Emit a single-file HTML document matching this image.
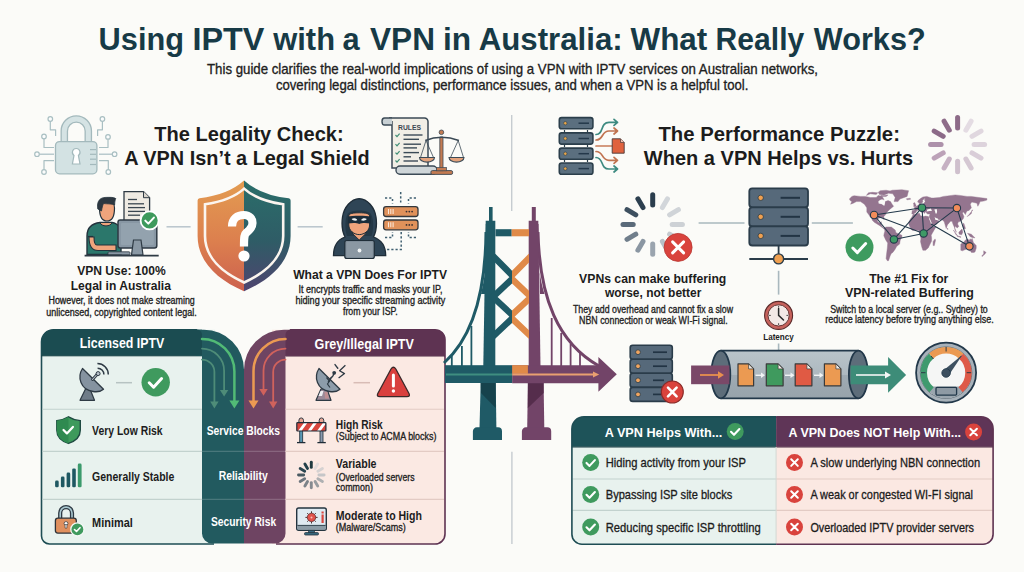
<!DOCTYPE html>
<html><head><meta charset="utf-8"><style>
html,body{margin:0;padding:0;background:#fbfbf8;}
svg{display:block;font-family:"Liberation Sans",sans-serif;}
</style></head><body>
<svg width="1024" height="572" viewBox="0 0 1024 572">
<rect width="1024" height="572" fill="#fbfbf8"/>
<!-- dividers -->
<g stroke="#c6ccd0" stroke-width="1.4">
<line x1="511.7" y1="115" x2="511.7" y2="211"/>
<line x1="511.9" y1="451.8" x2="511.9" y2="544"/>
</g>
<!-- lock icon -->
<g stroke="#a9bfc2" stroke-width="1.2" fill="none" stroke-linejoin="round">
<path d="M50.3,121.3 V129.8 H55.6 V136"/>
<path d="M44,138.8 V147.5 H54"/>
<path d="M39.3,154.2 H54"/>
<path d="M44,169.7 V160.6 H54"/>
<path d="M102.4,121.3 V129.8 H97.6 V136"/>
<path d="M108,139.2 V147.5 H99"/>
<path d="M112.3,154.2 H99"/>
<path d="M108.3,169.7 V160.6 H99"/>
<g fill="#fbfcfc"><circle cx="50.3" cy="119" r="2.3"/><circle cx="44" cy="136.5" r="2.3"/><circle cx="37" cy="154.2" r="2.3"/><circle cx="44" cy="172" r="2.3"/>
<circle cx="102.4" cy="119" r="2.3"/><circle cx="108" cy="136.9" r="2.3"/><circle cx="114.6" cy="154.2" r="2.3"/><circle cx="108.3" cy="172" r="2.3"/></g>
</g>
<path d="M64.3,143 V131 A12,12 0 0 1 88.3,131 V143" fill="none" stroke="#a3b9bc" stroke-width="7.6"/>
<path d="M64.3,143 V131 A12,12 0 0 1 88.3,131 V143" fill="none" stroke="#d5e3e4" stroke-width="5"/>
<rect x="55.5" y="141.6" width="41.4" height="32.2" rx="4" fill="#d3e2e3" stroke="#a3b9bc" stroke-width="1.3"/>
<path d="M76.2,148.5 a3.8,3.8 0 0 1 2.2,6.9 l1.6,8.6 h-7.6 l1.6,-8.6 a3.8,3.8 0 0 1 2.2,-6.9z" fill="#ffffff" stroke="#a3b9bc" stroke-width="1.2"/>
<g stroke="#a3b9bc" stroke-width="1.2"><line x1="90" y1="149.6" x2="96" y2="149.6"/><line x1="90" y1="154.3" x2="96" y2="154.3"/><line x1="90" y1="159.2" x2="96" y2="159.2"/><line x1="90" y1="164.5" x2="96" y2="164.5"/></g>

<!-- rules scroll -->
<path d="M389,118 H424.5 a3.5,3.5 0 0 1 3.5,3.5 V168 H392 V121" fill="#f1eee6" stroke="#3b4a56" stroke-width="1.5"/>
<path d="M392,125 H384.5 a2.5,3.5 0 0 1 0,-7 H392" fill="#c8d0d4" stroke="#3b4a56" stroke-width="1.4"/>
<rect x="396" y="166" width="41" height="8.3" rx="4" fill="#ced5d8" stroke="#3b4a56" stroke-width="1.4"/>
<text x="398" y="129.6" font-size="6.7" font-weight="bold" fill="#3a4550" textLength="23" lengthAdjust="spacingAndGlyphs">RULES</text>
<g stroke="#3f8c74" stroke-width="1.2" fill="none"><path d="M395.5,135 l1.5,1.6 l2.6,-3"/><path d="M395.5,144.2 l1.5,1.6 l2.6,-3"/><path d="M395.5,152.6 l1.5,1.6 l2.6,-3"/><path d="M395.5,160.5 l1.5,1.6 l2.6,-3"/></g>
<g stroke="#3b4a56" stroke-width="1.4"><line x1="403.5" y1="135" x2="422.5" y2="135"/><line x1="403.5" y1="139.3" x2="419" y2="139.3"/><line x1="403.5" y1="144.2" x2="421" y2="144.2"/><line x1="403.5" y1="147.9" x2="417" y2="147.9"/><line x1="403.5" y1="152.6" x2="419" y2="152.6"/><line x1="403.5" y1="156.8" x2="411" y2="156.8"/><line x1="403.5" y1="161" x2="418" y2="161"/></g>
<!-- scales -->
<rect x="430.9" y="170.6" width="21.7" height="3.8" rx="1.5" fill="#c47b52" stroke="#3b4a56" stroke-width="0.9"/>
<path d="M439.8,170.6 V137 H443 V170.6 Z" fill="#c47b52" stroke="#3b4a56" stroke-width="0.8"/>
<rect x="436.5" y="167.5" width="10" height="3.3" fill="#c47b52" stroke="#3b4a56" stroke-width="0.7"/>
<circle cx="441.4" cy="132.3" r="2.3" fill="#c47b52" stroke="#3b4a56" stroke-width="0.8"/>
<path d="M425.3,140.5 Q441.4,134 458.9,140.5" fill="none" stroke="#3b4a56" stroke-width="1.6"/>
<g stroke="#3b4a56" stroke-width="0.8" fill="none"><path d="M426,140.5 L420.5,157.5 M426,140.5 L433.5,157.5 M458.2,140.5 L450.5,157.5 M458.2,140.5 L463.5,157.5"/></g>
<path d="M419.5,157.5 H434.5 A7.5,4.6 0 0 1 419.5,157.5Z" fill="#e3a27c" stroke="#3b4a56" stroke-width="1.1"/>
<path d="M449,157.5 H464 A7.5,4.6 0 0 1 449,157.5Z" fill="#e3a27c" stroke="#3b4a56" stroke-width="1.1"/>

<!-- server with arrows -->
<g fill="#5b6f7f" stroke="#2b3e4b" stroke-width="1.6">
<rect x="559.3" y="117.6" width="33.6" height="11.2" rx="2.3"/>
<rect x="559.3" y="132.9" width="33.6" height="11.2" rx="2.3"/>
<rect x="559.3" y="148.1" width="33.6" height="11.2" rx="2.3"/>
<rect x="559.3" y="163" width="33.6" height="11.2" rx="2.3"/>
</g>
<g stroke="#2b3e4b" stroke-width="1.2"><line x1="564.5" y1="130" x2="564.5" y2="132"/><line x1="587.5" y1="130" x2="587.5" y2="132"/><line x1="564.5" y1="145" x2="564.5" y2="147"/><line x1="587.5" y1="145" x2="587.5" y2="147"/><line x1="564.5" y1="160" x2="564.5" y2="162"/><line x1="587.5" y1="160" x2="587.5" y2="162"/></g>
<g fill="#e8a64a" stroke="#2b3e4b" stroke-width="0.6"><circle cx="565.3" cy="123.2" r="1.7"/><circle cx="565.3" cy="138.5" r="1.7"/><circle cx="565.3" cy="153.7" r="1.7"/><circle cx="565.3" cy="168.6" r="1.7"/></g>
<g stroke="#24384a" stroke-width="1.5"><line x1="578.5" y1="123.2" x2="589" y2="123.2"/><line x1="578.5" y1="138.5" x2="589" y2="138.5"/><line x1="578.5" y1="153.7" x2="589" y2="153.7"/><line x1="578.5" y1="168.6" x2="589" y2="168.6"/></g>
<g fill="none" stroke-width="1.7" stroke-linecap="round" stroke-linejoin="round">
<path d="M596,134.5 C604,134.5 600,122.4 609,122.4 H617.5 M614,119.4 l3.5,3 l-3.5,3" stroke="#3d8a80"/>
<path d="M596,140 C604,140 601,131 609,131 H617.5 M614,128 l3.5,3 l-3.5,3" stroke="#c07350"/>
<path d="M596,146 H612" stroke="#c77b58"/>
<path d="M596,151.5 C604,151.5 601,160.3 609,160.3 H617.5 M614,157.3 l3.5,3 l-3.5,3" stroke="#c07350"/>
<path d="M596,157.5 C604,157.5 600,169 609,169 H617.5 M614,166 l3.5,3 l-3.5,3" stroke="#3d8a80"/>
</g>
<path d="M612.2,138.8 H620.5 L624.2,142.5 V153.2 H612.2 Z" fill="#e0623e" stroke="#4a3a3a" stroke-width="0.9"/>
<path d="M620.5,138.8 V142.5 H624.2" fill="#f0c0b0" stroke="#4a3a3a" stroke-width="0.7"/>

<!-- spinner top right -->
<g stroke-width="5" stroke-linecap="round">
<line x1="957.6" y1="117.5" x2="957.6" y2="128" stroke="#8d6b88"/>
<line x1="971.1" y1="121.2" x2="965.9" y2="130.2" stroke="#e4dce3"/>
<line x1="981" y1="131.1" x2="972" y2="136.3" stroke="#e0d7df"/>
<line x1="984.6" y1="144.6" x2="974.1" y2="144.6" stroke="#ddd3dc"/>
<line x1="981" y1="158.1" x2="972" y2="152.9" stroke="#d9cdd8"/>
<line x1="971.1" y1="168" x2="965.9" y2="159" stroke="#d5c8d3"/>
<line x1="957.6" y1="171.7" x2="957.6" y2="161.2" stroke="#cfc0cd"/>
<line x1="944.1" y1="168" x2="949.3" y2="159" stroke="#c6b1c3"/>
<line x1="934.2" y1="158.1" x2="943.2" y2="152.9" stroke="#bca2b8"/>
<line x1="930.6" y1="144.6" x2="941.1" y2="144.6" stroke="#ad91aa"/>
<line x1="934.2" y1="131.1" x2="943.2" y2="136.3" stroke="#8c6a88"/>
<line x1="944.1" y1="121.2" x2="949.3" y2="130.2" stroke="#8e6c89"/>
</g>
<!-- connectors -->
<g stroke="#b9c5cc" stroke-width="1.5">
<line x1="166.5" y1="226.8" x2="190.6" y2="226.8"/>
<line x1="297.6" y1="226.8" x2="322.7" y2="226.8"/>
</g>
<!-- person icon -->
<path d="M124,191.6 H143.5 L149.6,197.7 V222 H124 Z" fill="#efebe3" stroke="#2e3a44" stroke-width="1.3"/>
<path d="M143.5,191.6 V197.7 H149.6" fill="#d8d4cc" stroke="#2e3a44" stroke-width="1"/>
<g stroke="#3a4650" stroke-width="1.3"><line x1="128" y1="199.5" x2="137" y2="199.5"/><line x1="128" y1="203.8" x2="144" y2="203.8"/><line x1="128" y1="207.6" x2="145" y2="207.6"/><line x1="128" y1="211.4" x2="145" y2="211.4"/><line x1="128" y1="215.2" x2="140" y2="215.2"/></g>
<!-- shirt -->
<path d="M87,254.5 V236 C87,228 92,223.5 100,222.5 L112,222.5 C119,223.5 121,228 121,236 V254.5 Z" fill="#2b776b" stroke="#23323c" stroke-width="1.4"/>
<path d="M100,222.5 C101,227 111,227 112,222.5 Z" fill="#f0a47c" stroke="#23323c" stroke-width="1"/>
<path d="M88,236.5 H93" stroke="#23323c" stroke-width="1.2"/>
<path d="M89,237 C89,247 92,250.5 98,250.5 H116 V245 H97 C95,245 94,242 94,237 Z" fill="#f0a47c" stroke="#23323c" stroke-width="1.1"/>
<!-- head -->
<path d="M99.5,208 C99.5,216 102,221 107,221 C112,221 114.5,216 114.5,208 C114.5,202 111.5,200 107,200 C102.5,200 99.5,202 99.5,208Z" fill="#f0a47c" stroke="#23323c" stroke-width="1.2"/>
<path d="M97.8,209 C96.5,201 100,197.4 106,197.4 C110,197.4 113,197 115.8,198.6 C115,200 114.8,201.5 114.6,205 C112,203.5 106,204 103.5,203.5 C102.5,205.5 102,208 101.5,211 Z" fill="#2d3740" stroke="#23323c" stroke-width="0.8"/>
<!-- monitor -->
<rect x="118" y="220" width="38.8" height="28" rx="2.2" fill="#8897a4" stroke="#2e3a44" stroke-width="1.5"/>
<rect x="121" y="223" width="32.8" height="22" rx="1" fill="#93a2ae"/>
<path d="M133.5,240 H141 L143,255 H131.5 Z" fill="#8a98a4" stroke="#2e3a44" stroke-width="1.2"/>
<rect x="108" y="251.8" width="22" height="3" rx="1" fill="#8a98a4" stroke="#2e3a44" stroke-width="0.8"/>
<line x1="84.6" y1="255.6" x2="158.7" y2="255.6" stroke="#2e3a44" stroke-width="1.6"/>
<circle cx="149.6" cy="220.4" r="9" fill="#3e9a5c" stroke="#ffffff" stroke-width="1.8"/>
<path d="M145.3,220.6 l3,3 l5.6,-6" fill="none" stroke="#fff" stroke-width="2" stroke-linecap="round" stroke-linejoin="round"/>

<!-- shield -->
<defs>
<linearGradient id="shL" x1="0" y1="0" x2="0" y2="1"><stop offset="0" stop-color="#e39c51"/><stop offset="0.55" stop-color="#dc7f4e"/><stop offset="1" stop-color="#cc614f"/></linearGradient>
<linearGradient id="shR" x1="0" y1="0" x2="0" y2="1"><stop offset="0" stop-color="#2a6e6a"/><stop offset="0.55" stop-color="#2f5c66"/><stop offset="1" stop-color="#4f4470"/></linearGradient>
<clipPath id="shClipL"><rect x="190" y="175" width="54.1" height="120"/></clipPath>
<clipPath id="shClipR"><rect x="244.1" y="175" width="54" height="120"/></clipPath>
</defs>
<path id="shieldP" d="M244.1,180.5 Q228,195 199.5,198.3 Q197.6,198.6 197.6,200.5 L197.6,236 C197.6,262 218,280 244.1,291.2 C270,280 290.6,262 290.6,236 L290.6,200.5 Q290.6,198.6 288.7,198.3 Q260.2,195 244.1,180.5 Z" fill="url(#shL)" clip-path="url(#shClipL)"/>
<path d="M244.1,180.5 Q228,195 199.5,198.3 Q197.6,198.6 197.6,200.5 L197.6,236 C197.6,262 218,280 244.1,291.2 C270,280 290.6,262 290.6,236 L290.6,200.5 Q290.6,198.6 288.7,198.3 Q260.2,195 244.1,180.5 Z" fill="url(#shR)" clip-path="url(#shClipR)"/>
<path d="M244.1,188.6 Q231,200.5 205,204.3 L205,236 C205,257 222,272.5 244.1,282.5 C266,272.5 283.2,257 283.2,236 L283.2,204.3 Q257.2,200.5 244.1,188.6 Z" fill="none" stroke="#fbf5ef" stroke-width="2.6"/>
<path d="M232,226.5 C232,218.5 237.5,215 243.8,215 C250,215 252.5,219 252.5,223 C252.5,228 249,230.5 246.5,232.5 C244.3,234.3 244,236.5 244,246.5" fill="none" stroke="#ffffff" stroke-width="8.2"/>
<circle cx="244" cy="256" r="5.6" fill="#ffffff"/>

<!-- hacker -->
<g stroke="#3f5f70" stroke-width="1.5" stroke-dasharray="2.2,2" fill="none">
<path d="M400.7,192 V204"/>
<path d="M385,198 H392.5 V203.5"/>
<path d="M416,198 H408.5 V203.5"/>
<path d="M385,237.5 H392.5 V232"/>
<path d="M416,237.5 H408.5 V232"/>
<path d="M401.2,232 V249.5 H387"/>
</g>
<g fill="#e0915a" stroke="#33383d" stroke-width="1.3">
<rect x="383.6" y="206.7" width="34.4" height="9.8" rx="2.5"/>
<rect x="383.6" y="220" width="34.4" height="9.8" rx="2.5"/>
</g>
<g stroke="#fbe6d6" stroke-width="1.1"><path d="M388.5,209 v5 M390.8,209 v5 M393.1,209 v5 M388.5,222.3 v5 M390.8,222.3 v5 M393.1,222.3 v5"/></g>
<g fill="#3a3030"><circle cx="406.5" cy="211.6" r="0.9"/><circle cx="409.3" cy="211.6" r="0.9"/><circle cx="412.1" cy="211.6" r="0.9"/><circle cx="406.5" cy="224.9" r="0.9"/><circle cx="409.3" cy="224.9" r="0.9"/><circle cx="412.1" cy="224.9" r="0.9"/></g>
<path d="M333.5,255.6 C333.5,245 338,239.5 345,237 C342,231 341.5,224 342.5,217 C344,207 351,199 359.2,198.6 C367.5,199 374.5,207 376,217 C377,224 376.5,231 373.5,237 C380.5,239.5 385.7,245 385.7,255.6 Z" fill="#2f4556" stroke="#1f2d38" stroke-width="1.3"/>
<path d="M347,236 C344.5,229 345,217 348,213.5 C352,209.5 366.5,209.5 370.5,213.5 C373.5,217 374,229 371.5,236 Z" fill="#243846"/>
<path d="M352,233 L359.2,240 L366.4,233 Z" fill="#f0a47c" stroke="#1f2d38" stroke-width="0.9"/>
<path d="M348.8,216 C348.8,213.5 353,212.8 359.2,212.8 C365.5,212.8 369.6,213.5 369.6,216 V225 C369.6,230.5 364.5,234.6 359.2,234.6 C354,234.6 348.8,230.5 348.8,225 Z" fill="#f0a47c" stroke="#1f2d38" stroke-width="1"/>
<path d="M347.8,216.6 C352,215.6 366.5,215.6 370.6,216.6 V223.4 C366,222.8 362,222.6 359.2,224 C356.5,222.6 352.5,222.8 347.8,223.4 Z" fill="#1c2d3a"/>
<path d="M351.6,219 C353.5,217.8 356.5,218.2 357.3,220.3 C355,221 352.8,220.6 351.6,219 Z M366.8,219 C364.9,217.8 361.9,218.2 361.1,220.3 C363.4,221 365.6,220.6 366.8,219 Z" fill="#eef2f4"/>
<rect x="344.8" y="240.5" width="29.5" height="18" rx="2" fill="#7f8d99" stroke="#1f2d38" stroke-width="1.2"/>
<rect x="346.4" y="242.1" width="26.3" height="14.8" rx="1" fill="#8b98a3"/>
<circle cx="359.5" cy="250.5" r="1.9" fill="#f2f5f6"/>
<!-- left table -->
<path d="M53.5,329.7 H215 V544 H49.5 A8,8 0 0 1 41.5,536 V341.7 A12,12 0 0 1 53.5,329.7 Z" fill="#e8f2ee"/>
<path d="M214,544 H49.5 A8,8 0 0 1 41.5,536 V341.7 A12,12 0 0 1 53.5,329.7 H197" fill="none" stroke="#1e4d54" stroke-width="1.6"/>
<path d="M53.5,329.7 H197 A5,5 0 0 1 202,334.7 V355.5 H41.5 V341.7 A12,12 0 0 1 53.5,329.7 Z" fill="#1b4c51"/>
<line x1="41.5" y1="355.8" x2="202" y2="355.8" stroke="#123a3e" stroke-width="1"/>
<!-- right panel -->
<path d="M272,329.7 H435 A10,10 0 0 1 445,339.7 V534 A10,10 0 0 1 435,544 H272 Z" fill="#fbe9e3"/>
<path d="M290,329.7 H435 A10,10 0 0 1 445,339.7 V534 A10,10 0 0 1 435,544 H276" fill="none" stroke="#5e3352" stroke-width="1.6"/>
<path d="M290.5,329.7 H435 A10,10 0 0 1 445,339.7 V355.8 H285.5 V334.7 A5,5 0 0 1 290.5,329.7 Z" fill="#5e3352"/>
<line x1="285.5" y1="356" x2="445" y2="356" stroke="#4a2642" stroke-width="1"/>
<!-- teal column -->
<path d="M196,329.7 H204 A40,40 0 0 1 244,369.7 V543.5 H212 A10,10 0 0 1 202,533.5 V356 H196 Z" fill="#225a5f"/>
<rect x="196" y="329.7" width="6" height="26" fill="#225a5f"/>
<path d="M53.5,329.7 H197 A5,5 0 0 1 202,334.7 V355.5 H41.5 V341.7 A12,12 0 0 1 53.5,329.7 Z" fill="#1b4c51"/>
<!-- purple column -->
<path d="M291.5,329.7 H284 A40,40 0 0 0 244,369.7 V543.5 H275.5 A10,10 0 0 0 285.5,533.5 V356 H291.5 Z" fill="#6e4462"/>
<path d="M290.5,329.7 H435 A10,10 0 0 1 445,339.7 V355.8 H285.5 V334.7 A5,5 0 0 1 290.5,329.7 Z" fill="#5e3352"/>
<!-- row separators -->
<g stroke-width="1.1">
<g stroke="#c2d2ce"><line x1="42.5" y1="409.2" x2="202" y2="409.2"/><line x1="42.5" y1="451.4" x2="202" y2="451.4"/><line x1="42.5" y1="499.4" x2="202" y2="499.4"/></g>
<g stroke="#e3cbc4"><line x1="285.5" y1="409.2" x2="444" y2="409.2"/><line x1="285.5" y1="451.4" x2="444" y2="451.4"/><line x1="285.5" y1="499.4" x2="444" y2="499.4"/></g>
<g stroke="#ffffff" stroke-opacity="0.18"><line x1="202" y1="451.4" x2="285.5" y2="451.4"/><line x1="202" y1="499.4" x2="285.5" y2="499.4"/></g>
</g>
<!-- column arrows -->
<g fill="none" stroke-linecap="round">
<path d="M202,359.6 A12.4,12.4 0 0 1 214.4,372 V403" stroke="#4e8c78" stroke-width="1.8"/>
<path d="M202,348.6 A22.1,22.1 0 0 1 224.1,370.7 V391" stroke="#4e8c78" stroke-width="1.8"/>
<path d="M202,339 A32.4,32.4 0 0 1 234.4,371.4 V402" stroke="#52bb76" stroke-width="2.5"/>
<path d="M285.5,339 A32,32 0 0 0 253.5,371 V402" stroke="#eb9a52" stroke-width="2.5"/>
<path d="M285.5,348.6 A22,22 0 0 0 263.5,370.6 V390" stroke="#d0625c" stroke-width="1.8"/>
<path d="M285.5,359.6 A12.3,12.3 0 0 0 273.2,371.9 V403" stroke="#d0625c" stroke-width="1.8"/>
</g>
<g>
<path d="M210.2,401.5 H218.6 L214.4,408.4 Z" fill="#4e8c78"/>
<path d="M219.9,390 H228.3 L224.1,396.6 Z" fill="#4e8c78"/>
<path d="M229.4,400.5 H239.4 L234.4,408.6 Z" fill="#52bb76"/>
<path d="M248.5,400.5 H258.5 L253.5,408.6 Z" fill="#eb9a52"/>
<path d="M259.3,389 H267.7 L263.5,395.8 Z" fill="#d0625c"/>
<path d="M269,401.5 H277.4 L273.2,408.4 Z" fill="#d0625c"/>
</g>

<!-- licensed row icons -->
<g transform="translate(0,0)">
<path d="M85.5,389 L80,400.3 H94.5 L90,389 Z" fill="#6f7c88" stroke="#2e3a44" stroke-width="1.2" stroke-linejoin="round"/>
<path d="M82.5,368.5 C77,377 80.5,389.5 93,391.5 C97.5,392.2 101.5,391 103.5,389.2 Z" fill="#8593a0" stroke="#2e3a44" stroke-width="1.3" stroke-linejoin="round"/>
<path d="M92.5,379.5 L97.5,374" stroke="#2e3a44" stroke-width="2.8" stroke-linecap="round"/><path d="M92.5,379.5 L97.5,374" stroke="#b8c2ca" stroke-width="1.1" stroke-linecap="round"/>
<circle cx="98.1" cy="373.6" r="2" fill="#b8c2ca" stroke="#2e3a44" stroke-width="1"/>
<path d="M97.6,368.2 A6.3,6.3 0 0 1 103.9,374.5 M97.4,363.6 A10.9,10.9 0 0 1 108.3,374.5" fill="none" stroke="#2e3a44" stroke-width="1.5"/>
</g>
<line x1="116" y1="382.7" x2="132" y2="382.7" stroke="#b7c3c2" stroke-width="1.5"/>
<circle cx="155.7" cy="382.3" r="14.2" fill="#3f9a5e"/>
<path d="M149.2,382.8 l4.4,4.4 l8,-8.6" fill="none" stroke="#fff" stroke-width="3" stroke-linecap="round" stroke-linejoin="round"/>

<!-- shield icon -->
<path d="M68.5,416.8 C64.5,419.3 60.5,420.3 56.8,420.6 V430 C56.8,437 62,441.3 68.5,443.4 C75,441.3 80.3,437 80.3,430 V420.6 C76.5,420.3 72.5,419.3 68.5,416.8 Z" fill="#3e9a5c" stroke="#1f4a42" stroke-width="1.4"/>
<path d="M68.5,416.8 C64.5,419.3 60.5,420.3 56.8,420.6 V430 C56.8,437 62,441.3 68.5,443.4 Z" fill="#2f8a50"/>
<path d="M63.5,430 l3.4,3.4 l6,-6.5" fill="none" stroke="#fff" stroke-width="2.2" stroke-linecap="round" stroke-linejoin="round"/>
<!-- bars -->
<g>
<rect x="55.1" y="480.6" width="3.6" height="6.6" rx="1.3" fill="#1e5862"/>
<rect x="60.9" y="476.6" width="3.6" height="10.6" rx="1.3" fill="#1e5862"/>
<rect x="66.6" y="472.6" width="3.6" height="14.6" rx="1.3" fill="#1e5862"/>
<rect x="72.2" y="468.4" width="3.6" height="18.8" rx="1.3" fill="#1e5862"/>
<rect x="77.8" y="463.6" width="3.8" height="23.6" rx="1.3" fill="#3b9a6c"/>
</g>
<!-- lock w/ check -->
<path d="M60.2,518.5 V513 A5.9,5.9 0 0 1 72,513 V518.5" fill="none" stroke="#2e3a44" stroke-width="4.2"/>
<path d="M60.2,518.5 V513 A5.9,5.9 0 0 1 72,513 V518.5" fill="none" stroke="#a9c8d0" stroke-width="1.6"/>
<rect x="55.4" y="518.2" width="20.9" height="14.9" rx="2.5" fill="#e0905e" stroke="#2e3237" stroke-width="1.3"/>
<circle cx="66" cy="523.5" r="1.9" fill="#fff" stroke="#2e3237" stroke-width="0.7"/>
<path d="M65.1,524.5 h1.8 v3.6 h-1.8 Z" fill="#fff" stroke="#2e3237" stroke-width="0.6"/>
<circle cx="77.4" cy="529.4" r="6.6" fill="#3f9a5e" stroke="#f3f7f5" stroke-width="1.3"/>
<path d="M74.5,529.5 l2,2 l3.5,-3.8" fill="none" stroke="#fff" stroke-width="1.6" stroke-linecap="round" stroke-linejoin="round"/>

<!-- illegal row icons -->
<g>
<path d="M321,389 L316,400.3 H331 L327,389 Z" fill="#9a8a98" stroke="#2e3a44" stroke-width="1.2" stroke-linejoin="round"/>
<path d="M320.5,391 L318.5,396 H322 L323.5,391 Z" fill="#eef0f2"/>
<path d="M324.5,392 L325,398.5 H329 L327.5,392 Z" fill="#c08f92"/>
<path d="M319,368.5 C313.5,377 317,389.5 329.5,391.5 C334,392.2 338,391 340,389.2 Z" fill="#8d9caa" stroke="#2e3a44" stroke-width="1.3" stroke-linejoin="round"/>
<path d="M326.5,377.5 L329.5,381 L327.5,384 L330,387.5" fill="none" stroke="#2e3a44" stroke-width="1.2"/>
<path d="M328,382 C331,380.5 329.5,378.5 332,377 C333.5,376 333,375 334,373.5" fill="none" stroke="#2e3a44" stroke-width="1.5"/>
<circle cx="334.2" cy="372.8" r="1.9" fill="#2e3a44"/>
<path d="M335,364.6 L337.8,368.2" stroke="#2e3a44" stroke-width="1.4" stroke-linecap="round"/>
<path d="M345.4,365.2 L339.6,370.8 L344.5,373.6 L338.6,378" fill="none" stroke="#2e3a44" stroke-width="1.3" stroke-linejoin="round"/>
</g>
<line x1="353.5" y1="382.7" x2="370" y2="382.7" stroke="#d8bcb6" stroke-width="1.5"/>
<path d="M391,369 Q393.4,365.5 395.8,369 L409,393.5 Q410.5,396.7 407,396.7 H379.8 Q376.3,396.7 377.8,393.5 Z" fill="#d9403e" stroke="#3a2a2a" stroke-width="1.3" stroke-linejoin="round"/>
<path d="M393.4,375 V386" stroke="#fff" stroke-width="3" stroke-linecap="round"/>
<circle cx="393.4" cy="391" r="1.7" fill="#fff"/>
<!-- barrier -->
<g>
<rect x="299.7" y="430" width="3" height="12.5" fill="#5a98b4" stroke="#1f2d38" stroke-width="0.8"/>
<rect x="320" y="430" width="3" height="12.5" fill="#8a9aae" stroke="#1f2d38" stroke-width="0.8"/>
<line x1="297" y1="442.6" x2="305.4" y2="442.6" stroke="#1f2d38" stroke-width="1.3"/>
<line x1="317.4" y1="442.6" x2="325.8" y2="442.6" stroke="#1f2d38" stroke-width="1.3"/>
<path d="M298.9,422.8 V420.5 A2.3,2.6 0 0 1 303.5,420.5 V422.8 Z" fill="#e6a796" stroke="#1f2d38" stroke-width="0.9"/>
<path d="M319.2,422.8 V420.5 A2.3,2.6 0 0 1 323.8,420.5 V422.8 Z" fill="#e6a796" stroke="#1f2d38" stroke-width="0.9"/>
<clipPath id="barclip"><rect x="296.8" y="422.7" width="29.1" height="8.3"/></clipPath>
<rect x="296.8" y="422.7" width="29.1" height="8.3" fill="#d9463e"/>
<g clip-path="url(#barclip)" fill="#ffffff"><path d="M298,431 L304,422.7 H307.5 L301.5,431Z M307.5,431 L313.5,422.7 H317 L311,431Z M317,431 L323,422.7 H326.5 L320.5,431Z"/></g>
<rect x="296.8" y="422.7" width="29.1" height="8.3" rx="0.8" fill="none" stroke="#1f2d38" stroke-width="1.2"/>
</g>
<!-- small spinner -->
<g stroke-width="2.9" stroke-linecap="round">
<line x1="311.3" y1="462.2" x2="311.3" y2="467.4" stroke="#1f3a40"/>
<line x1="317.7" y1="463.9" x2="315.1" y2="468.4" stroke="#e2dcdc"/>
<line x1="322.4" y1="468.6" x2="317.9" y2="471.2" stroke="#d6d2d2"/>
<line x1="324.1" y1="475.0" x2="318.9" y2="475.0" stroke="#c6c6c8"/>
<line x1="322.4" y1="481.4" x2="317.9" y2="478.8" stroke="#aeb0b2"/>
<line x1="317.7" y1="486.1" x2="315.1" y2="481.6" stroke="#989ca0"/>
<line x1="311.3" y1="487.8" x2="311.3" y2="482.6" stroke="#868a90"/>
<line x1="304.9" y1="486.1" x2="307.5" y2="481.6" stroke="#7c8288"/>
<line x1="300.2" y1="481.4" x2="304.7" y2="478.8" stroke="#6e767e"/>
<line x1="298.5" y1="475.0" x2="303.7" y2="475.0" stroke="#4a5a62"/>
<line x1="300.2" y1="468.6" x2="304.7" y2="471.2" stroke="#2a4550"/>
<line x1="304.9" y1="463.9" x2="307.5" y2="468.4" stroke="#24404a"/>
</g>
<!-- monitor with bug -->
<rect x="296.7" y="508" width="29.6" height="22.3" rx="2" fill="#dfeaf1" stroke="#24343f" stroke-width="1.4"/>
<rect x="297.4" y="525.4" width="28.2" height="4.2" fill="#8c9ca6"/>
<line x1="297.4" y1="525.4" x2="325.6" y2="525.4" stroke="#24343f" stroke-width="0.9"/>
<rect x="308.5" y="530.3" width="6" height="2.6" fill="#3a6a80" stroke="#24343f" stroke-width="0.7"/>
<rect x="304.5" y="532.6" width="14" height="2.4" rx="1" fill="#3a6a80" stroke="#24343f" stroke-width="0.8"/>
<g stroke="#3a2020" stroke-width="0.9"><path d="M311.5,511.3 v2 M311.5,521.5 v2 M305.4,517.4 h2 M315.6,517.4 h2 M307.2,513.1 l1.4,1.4 M315.8,513.1 l-1.4,1.4 M307.2,521.7 l1.4,-1.4 M315.8,521.7 l-1.4,-1.4"/></g>
<circle cx="311.5" cy="517.4" r="4.2" fill="#e0514a" stroke="#5a1f1f" stroke-width="0.7"/>
<circle cx="311.5" cy="517.4" r="1" fill="#f6c0b8"/>
<rect x="321.5" y="514.5" width="2.2" height="8.5" fill="#d9463e"/>
<path d="M321.5,511.5 h2.2 v2 h-2.2z" fill="#d9463e"/>
<!-- bridge -->
<g fill="none" stroke-width="3">
<path d="M486,232 C485.5,295 472,338 444,363" stroke="#1f5a66"/>
<path d="M538,232 C539.5,298 558,343 599,366" stroke="#724468"/>
</g>
<g stroke-width="1.8">
<g stroke="#1f5a66"><line x1="451.8" y1="356" x2="451.8" y2="366"/><line x1="461.9" y1="346" x2="461.9" y2="366"/><line x1="471.4" y1="326" x2="471.4" y2="366"/></g>
<g stroke="#724468"><line x1="551.7" y1="318" x2="551.7" y2="366"/><line x1="561.2" y1="333" x2="561.2" y2="366"/><line x1="570.6" y1="344" x2="570.6" y2="366"/><line x1="580" y1="352" x2="580" y2="366"/></g>
</g>
<!-- towers -->
<path d="M487.5,224 C487,262 484.5,280 481,294 L485.2,294 L485.8,224 Z" fill="#1f5a66"/>
<path d="M536.5,224 C537.5,262 540,280 544.5,294 L540,294 L538.5,224 Z" fill="#724468"/>
<rect x="489" y="207" width="3.6" height="16" fill="#1f5a66"/>
<rect x="531.8" y="207" width="4" height="16" fill="#724468"/>
<path d="M485.7,220.7 H495.3 V366 H483.3 Z" fill="#1f5a66"/>
<path d="M528.7,220.7 H538.3 L540.5,366 H528.7 Z" fill="#724468"/>
<rect x="495.5" y="229.2" width="16.2" height="7.1" fill="#1f5a66"/>
<rect x="511.7" y="229.2" width="17.3" height="7.1" fill="#e08a48"/>
<clipPath id="brL"><rect x="487" y="240" width="25" height="110"/></clipPath>
<clipPath id="brR"><rect x="512" y="240" width="16.9" height="110"/></clipPath>
<g fill="none" stroke-width="6.4" stroke-linejoin="miter" stroke-miterlimit="10">
<path d="M493,256 L514,277.2 L493,297 L514,316.7 L493,336.5" stroke="#1f5a66" clip-path="url(#brL)"/>
<path d="M531,256 L510,277.2 L531,297 L510,316.7 L531,336.5" stroke="#e08a48" clip-path="url(#brR)"/>
</g>
<!-- legs -->
<path d="M480.7,383 H495.7 L496.4,428 H479.5 Z" fill="#1f5a66"/>
<path d="M480.7,383 H495.7 V408 L481,393 Z" fill="#16424c"/>
<path d="M477,427.3 H498 A4,4 0 0 1 502,431.3 V440 H472.9 V431.3 A4,4 0 0 1 477,427.3 Z" fill="#1f5a66"/>
<path d="M527.9,383 H543.6 L544.3,428 H527.2 Z" fill="#724468"/>
<path d="M527.9,383 H543.6 V393 L527.9,408 Z" fill="#552d4c"/>
<path d="M526,427.3 H547.2 A4,4 0 0 1 551.2,431.3 V440 H521.9 V431.3 A4,4 0 0 1 526,427.3 Z" fill="#724468"/>
<!-- deck -->
<rect x="445" y="365.2" width="67.4" height="17.8" fill="#1f5a66"/>
<path d="M512.2,365.2 H598.4 V357.1 L616.8,374.3 L598.4,391.7 V383.2 H512.2 Z" fill="#724468"/>
<rect x="512.2" y="365.2" width="15.7" height="8.6" fill="#e08a48"/>
<line x1="446" y1="374.5" x2="512.2" y2="374.5" stroke="#3f8e80" stroke-width="1.8"/>
<line x1="512.2" y1="374.5" x2="594" y2="374.5" stroke="#e9a070" stroke-width="2"/>
<path d="M593,371.6 L599.2,374.5 L593,377.4 Z" fill="#e9a070"/>
<!-- right spinner -->
<g stroke-width="5" stroke-linecap="round">
<line x1="652.7" y1="194.8" x2="652.7" y2="205" stroke="#2a3d4d"/>
<line x1="667.5" y1="198.8" x2="662.4" y2="207.6" stroke="#d2d6da"/>
<line x1="678.4" y1="209.7" x2="669.6" y2="214.8" stroke="#d0d4d8"/>
<line x1="682.4" y1="224.5" x2="672.2" y2="224.5" stroke="#cdd1d5"/>
<line x1="678.4" y1="239.3" x2="669.6" y2="234.2" stroke="#c5cacf"/>
<line x1="667.5" y1="250.2" x2="662.4" y2="241.4" stroke="#b8bfc5"/>
<line x1="652.7" y1="254.2" x2="652.7" y2="244" stroke="#9aa4ae"/>
<line x1="637.9" y1="250.2" x2="643" y2="241.4" stroke="#8a96a2"/>
<line x1="627" y1="239.3" x2="635.8" y2="234.2" stroke="#707e8b"/>
<line x1="623" y1="224.5" x2="633.2" y2="224.5" stroke="#5a6a79"/>
<line x1="627" y1="209.7" x2="635.8" y2="214.8" stroke="#3d4f5f"/>
<line x1="637.9" y1="198.8" x2="643" y2="207.6" stroke="#2c3f4f"/>
</g>
<circle cx="678.1" cy="247.4" r="14" fill="#d9433d" stroke="#b83530" stroke-width="0.8"/>
<path d="M672.6,241.9 L683.6,252.9 M683.6,241.9 L672.6,252.9" stroke="#fff" stroke-width="3" stroke-linecap="round"/>
<g stroke="#a9b8be" stroke-width="1.6">
<line x1="698.6" y1="223" x2="744.5" y2="223"/>
<line x1="811.8" y1="223" x2="852.9" y2="223"/>
<line x1="778.6" y1="270.8" x2="778.6" y2="294.6"/>
<line x1="778.6" y1="343.5" x2="778.6" y2="351"/>
</g>
<!-- server -->
<g fill="#56697a" stroke="#2a3c4a" stroke-width="1.8">
<rect x="749.3" y="188.3" width="58.7" height="19" rx="3"/>
<rect x="749.3" y="207.3" width="58.7" height="19.1" rx="3"/>
<rect x="749.3" y="226.4" width="58.7" height="19.1" rx="3"/>
</g>
<g fill="#f0a050" stroke="#2a3c4a" stroke-width="0.8"><circle cx="760.7" cy="197.8" r="2.7"/><circle cx="760.7" cy="216.8" r="2.7"/><circle cx="760.7" cy="235.9" r="2.7"/></g>
<g stroke="#223444" stroke-width="2"><line x1="780.6" y1="197.8" x2="800" y2="197.8"/><line x1="780.6" y1="216.8" x2="800" y2="216.8"/><line x1="780.6" y1="235.9" x2="800" y2="235.9"/></g>
<line x1="778.6" y1="245.5" x2="778.6" y2="258.9" stroke="#2a3c4a" stroke-width="1.8"/>
<line x1="749.3" y1="258.9" x2="808" y2="258.9" stroke="#2a3c4a" stroke-width="2"/>
<circle cx="778.6" cy="258.9" r="5" fill="#f0a050" stroke="#2a3c4a" stroke-width="1.4"/>
<!-- clock -->
<circle cx="778.6" cy="315.4" r="14" fill="#c6625c" stroke="#5a2a2a" stroke-width="1.1"/>
<circle cx="778.6" cy="315.4" r="10.6" fill="#f3e9e6" stroke="#5a2a2a" stroke-width="0.9"/>
<g stroke="#3a3a3a" stroke-width="0.9"><line x1="778.6" y1="305.8" x2="778.6" y2="307.6"/><line x1="778.6" y1="323.2" x2="778.6" y2="325"/><line x1="769" y1="315.4" x2="770.8" y2="315.4"/><line x1="786.4" y1="315.4" x2="788.2" y2="315.4"/></g>
<path d="M778.6,308.5 V315.4 L783.5,320" fill="none" stroke="#2a2a2a" stroke-width="1.5" stroke-linecap="round"/>
<!-- check by map -->
<circle cx="859.5" cy="247.5" r="14" fill="#3e9b5f"/>
<path d="M852.8,248 l4.6,4.6 l8.3,-9" fill="none" stroke="#fff" stroke-width="3" stroke-linecap="round" stroke-linejoin="round"/>

<!-- server stack 4 -->
<g fill="#56697a" stroke="#2a3c4a" stroke-width="1.6">
<rect x="630.2" y="345.2" width="42.1" height="14" rx="2.5"/>
<rect x="630.2" y="359.2" width="42.1" height="14" rx="2.5"/>
<rect x="630.2" y="373.3" width="42.1" height="14" rx="2.5"/>
<rect x="630.2" y="387.4" width="42.1" height="14" rx="2.5"/>
</g>
<g fill="#f0a560" stroke="#2a3c4a" stroke-width="0.8"><circle cx="638" cy="352.2" r="2.4"/><circle cx="638" cy="366.2" r="2.4"/><circle cx="638" cy="380.3" r="2.4"/><circle cx="638" cy="394.4" r="2.4"/></g>
<g stroke="#223444" stroke-width="1.7"><line x1="653" y1="352.2" x2="667" y2="352.2"/><line x1="653" y1="366.2" x2="667" y2="366.2"/><line x1="653" y1="380.3" x2="664" y2="380.3"/><line x1="653" y1="394.4" x2="662" y2="394.4"/></g>
<circle cx="672.3" cy="392" r="11" fill="#d9433d" stroke="#8a2a28" stroke-width="1.1"/>
<path d="M668,387.7 L676.6,396.3 M676.6,387.7 L668,396.3" stroke="#fff" stroke-width="2.6" stroke-linecap="round"/>

<!-- tunnel -->
<defs>
<linearGradient id="tun" x1="0" y1="0" x2="0" y2="1"><stop offset="0" stop-color="#b9c4ca"/><stop offset="0.5" stop-color="#aeb9c0"/><stop offset="0.52" stop-color="#9fabb3"/><stop offset="1" stop-color="#97a3ab"/></linearGradient>
</defs>
<path d="M720.8,350.6 H858.4 V398.3 H720.8 Z" fill="url(#tun)"/>
<line x1="720.8" y1="350.6" x2="858.4" y2="350.6" stroke="#22384a" stroke-width="1.8"/>
<line x1="720.8" y1="398.3" x2="858.4" y2="398.3" stroke="#22384a" stroke-width="1.8"/>
<ellipse cx="720.8" cy="374.45" rx="9.5" ry="23.85" fill="#5d6d7a" stroke="#22384a" stroke-width="1.8"/>
<rect x="691.1" y="365.5" width="38.3" height="18.7" fill="#7a4868"/>
<path d="M700,375 H720" stroke="#e8904e" stroke-width="1.8"/>
<path d="M718,371.3 L724,375 L718,378.7 Z" fill="#e8904e"/>
<ellipse cx="858.4" cy="374.45" rx="9.5" ry="23.85" fill="#5d6d7a" stroke="#22384a" stroke-width="1.8"/>
<!-- files -->
<g stroke="#3a3a3a" stroke-width="1.2" stroke-linejoin="round">
<path d="M738,363.9 H748.6 L753.6,368.9 V385.8 H738 Z" fill="#eb9a52"/>
<path d="M766.3,363.9 H778.1 L783.1,368.9 V385.8 H766.3 Z" fill="#3f9a5e"/>
<path d="M795.2,363.9 H806.9 L811.9,368.9 V385.8 H795.2 Z" fill="#e05a44"/>
<path d="M824.4,363.9 H835.9 L840.9,368.9 V385.8 H824.4 Z" fill="#eb9a52"/>
</g>
<g fill="#f3ece4" stroke="#3a3a3a" stroke-width="0.7"><path d="M748.6,363.9 V368.9 H753.6Z"/><path d="M778.1,363.9 V368.9 H783.1Z"/><path d="M806.9,363.9 V368.9 H811.9Z"/><path d="M835.9,363.9 V368.9 H840.9Z"/></g>
<g stroke="#f2f4f5" stroke-width="1.4"><line x1="755.5" y1="375.3" x2="762" y2="375.3"/><line x1="785" y1="375.3" x2="791.5" y2="375.3"/><line x1="814" y1="375.3" x2="820.5" y2="375.3"/></g>
<g fill="#f2f4f5"><path d="M761,372.6 L765,375.3 L761,378 Z"/><path d="M790.5,372.6 L794.5,375.3 L790.5,378 Z"/><path d="M819.5,372.6 L823.5,375.3 L819.5,378 Z"/></g>
<!-- green arrow -->
<path d="M850.6,365.5 H888.1 V356.9 L906.1,375 L888.1,392.8 V384.2 H850.6 Z" fill="#3d8c78"/>
<line x1="856" y1="375" x2="887" y2="375" stroke="#f4f6f5" stroke-width="1.6"/>
<path d="M885,371.6 L891,375 L885,378.4 Z" fill="#f4f6f5"/>
<!-- speedometer -->
<circle cx="946.1" cy="372.7" r="30" fill="#a7b1b9" stroke="#22384a" stroke-width="1.8"/>
<circle cx="946.1" cy="372.7" r="25.8" fill="#f5f6f5" stroke="#56646f" stroke-width="0.8"/>
<path d="M924.5,386.5 A25.8,25.8 0 0 0 967.7,386.5 Z" fill="#9aa5ae"/>
<g fill="none" stroke-width="6.5">
<path d="M931.6,389.7 A22.3,22.3 0 0 1 931.3,356" stroke="#3f9a6e"/>
<path d="M931.3,356 A22.3,22.3 0 0 1 961,356" stroke="#eb9a52"/>
<path d="M961,356 A22.3,22.3 0 0 1 960.6,389.7" stroke="#de5a48"/>
</g>
<g stroke="#2a3a44" stroke-width="1"><line x1="946.1" y1="347" x2="946.1" y2="351.5"/><line x1="921" y1="372.7" x2="925.5" y2="372.7"/><line x1="966.7" y1="372.7" x2="971.2" y2="372.7"/><line x1="931" y1="356" x2="933.5" y2="359"/><line x1="961.2" y1="356" x2="958.7" y2="359"/></g>
<path d="M943.3,370.5 L962.5,354.8 L948.6,375.4 Z" fill="#3d5060"/>
<circle cx="946.1" cy="373" r="4.3" fill="#3d5060" stroke="#22384a" stroke-width="0.8"/>
<rect x="936" y="387.4" width="20.6" height="7.7" rx="1" fill="#8e9aa4" stroke="#22384a" stroke-width="1.3"/>
<!-- world map -->
<g fill="#94758f" stroke="#94758f" stroke-width="0.4" stroke-linejoin="round">
<path d="M849.4,199.0 L851.8,196.4 L854.1,195.7 L860.5,196.4 L865.2,196.4 L870.3,197.5 L876.2,197.5 L878.2,195.4 L882.2,196.4 L883.4,198.5 L884.1,200.1 L879.4,202.6 L878.2,203.7 L882.2,204.2 L884.5,205.8 L885.3,201.6 L888.1,200.6 L890.5,201.6 L892.1,204.2 L893.6,206.3 L889.7,209.4 L888.1,210.9 L886.1,213.0 L885.7,214.6 L883.8,216.6 L884.1,219.7 L883.4,218.7 L882.2,217.2 L880.2,217.7 L877.4,218.7 L877.4,221.3 L879.4,222.9 L881.4,221.8 L881.0,224.4 L882.6,227.0 L884.1,228.5 L885.3,228.5 L884.1,229.1 L882.2,227.5 L879.4,225.4 L874.3,222.3 L872.3,220.3 L871.5,217.7 L870.3,217.2 L869.1,215.1 L866.8,212.0 L866.8,207.8 L864.4,204.2 L860.5,201.6 L856.5,201.6 L853.3,203.2 L850.6,204.2 L851.8,201.6 L850.2,200.6Z"/>
<path d="M866.4,195.4 L870.3,193.8 L876.2,194.4 L877.8,192.8 L872.3,192.3 L868.4,192.8Z"/>
<path d="M879.4,194.4 L884.1,194.9 L888.1,193.3 L891.3,191.3 L886.1,190.2 L880.2,190.7 L878.2,192.3Z"/>
<path d="M880.2,196.4 L886.1,196.4 L888.1,194.9 L884.1,195.4 L881.0,195.4Z"/>
<path d="M894.0,201.6 L898.0,201.6 L900.0,199.0 L907.1,196.4 L907.9,193.3 L908.6,190.7 L901.9,189.7 L892.1,190.2 L887.3,192.3 L888.9,193.3 L892.8,193.8 L895.2,197.5Z"/>
<path d="M906.3,198.8 L910.2,198.2 L910.6,199.3 L907.1,199.8Z"/>
<path d="M884.1,228.0 L886.1,227.0 L891.3,227.0 L895.2,230.1 L896.0,232.7 L898.4,233.7 L901.9,235.3 L901.9,237.4 L900.3,239.9 L899.6,244.1 L896.8,246.2 L894.8,249.8 L892.8,252.4 L891.3,253.4 L890.1,256.0 L889.3,258.6 L888.5,260.7 L887.3,260.7 L886.1,258.6 L886.5,254.4 L887.3,248.2 L887.7,243.1 L885.7,239.9 L883.8,235.8 L884.1,233.7 L884.9,231.1Z"/>
<path d="M911.8,214.0 L912.2,210.4 L915.0,209.9 L914.2,207.8 L916.5,206.3 L918.9,204.7 L919.3,203.2 L920.1,203.7 L920.5,204.2 L922.9,204.2 L924.0,203.2 L925.2,201.6 L924.4,199.5 L925.6,199.0 L924.4,198.5 L922.5,200.6 L922.9,202.1 L920.5,203.7 L917.7,202.1 L918.1,200.6 L920.5,198.5 L922.9,197.0 L926.8,196.4 L931.6,198.0 L933.5,198.0 L939.5,197.5 L943.4,196.4 L947.4,195.9 L955.2,194.9 L960.0,195.4 L967.1,196.4 L971.1,196.4 L979.0,197.5 L982.9,198.0 L986.9,198.5 L986.9,200.1 L983.7,201.1 L980.1,201.6 L979.0,204.2 L977.8,206.3 L977.0,203.2 L971.8,202.1 L970.3,204.2 L971.4,207.8 L969.1,210.4 L967.1,210.9 L965.9,213.0 L965.5,214.6 L963.5,212.0 L962.4,213.0 L963.9,216.6 L963.5,218.2 L962.0,220.3 L959.2,221.8 L958.4,221.8 L957.6,223.9 L958.8,226.5 L957.2,228.0 L955.2,226.0 L954.9,228.5 L956.4,232.2 L955.2,230.6 L954.5,227.5 L952.9,223.9 L952.1,221.3 L950.5,221.3 L947.4,224.9 L946.2,228.5 L944.2,221.8 L942.2,219.7 L938.7,219.7 L937.9,218.7 L936.3,218.2 L934.7,217.2 L935.5,219.7 L937.9,220.3 L939.1,221.3 L936.3,224.4 L932.7,226.0 L931.2,221.8 L929.6,218.2 L929.2,216.6 L930.0,214.0 L927.6,214.0 L926.0,212.5 L926.8,211.5 L925.2,212.0 L924.4,213.5 L923.6,212.0 L922.1,213.0 L920.5,209.9 L921.3,209.4 L918.9,209.9 L916.9,210.4 L915.8,212.5 L913.4,214.0Z"/>
<path d="M909.0,221.8 L909.0,224.9 L911.0,229.1 L912.6,230.6 L915.8,230.1 L918.9,230.6 L919.3,232.2 L920.5,235.3 L920.9,238.9 L920.5,241.5 L921.7,246.7 L922.9,250.3 L925.6,250.3 L928.4,247.7 L929.6,245.1 L931.6,241.0 L931.6,237.9 L931.2,235.3 L932.3,233.2 L935.9,227.0 L933.1,227.0 L932.7,226.0 L930.8,223.4 L929.2,218.2 L928.4,216.6 L925.6,216.1 L923.6,216.6 L920.1,215.6 L919.7,213.5 L916.9,213.5 L915.0,214.6 L913.4,214.0 L911.8,217.2 L910.6,218.7Z"/>
<path d="M960.8,244.1 L960.8,250.3 L962.4,250.8 L964.7,249.8 L967.5,248.8 L969.1,250.8 L970.3,250.8 L971.4,252.4 L973.8,252.4 L975.0,251.9 L976.2,248.2 L976.2,245.6 L973.4,242.5 L972.2,238.4 L971.4,239.4 L969.9,238.9 L969.5,240.5 L967.5,238.9 L965.5,239.9 L963.5,242.5Z"/>
<path d="M913.8,206.8 L916.1,206.3 L915.8,204.7 L914.6,202.6 L913.4,203.2 L913.8,204.7Z"/>
<path d="M967.1,216.6 L969.5,215.1 L971.4,213.5 L971.8,210.4 L973.0,209.9 L971.1,212.0 L969.1,214.6Z"/>
<path d="M933.1,245.6 L934.3,245.6 L935.5,240.5 L935.1,238.9 L933.1,241.5Z"/>
<path d="M967.5,233.2 L971.4,234.2 L975.0,237.9 L972.2,237.4 L970.3,236.8Z"/>
<path d="M958.8,232.2 L962.0,229.1 L962.8,232.2 L961.6,234.8 L959.2,234.2Z"/>
<path d="M953.3,230.1 L957.6,235.8 L956.0,234.8 L954.5,231.7Z"/>
<path d="M957.2,235.8 L960.8,236.8 L960.8,237.4 L957.2,236.3Z"/>
<path d="M983.7,250.8 L986.1,252.4 L984.5,254.4 L982.1,256.5 L981.7,256.0 L983.7,253.9Z"/>
<path d="M963.1,223.4 L963.9,223.4 L965.5,228.5 L963.9,229.1 L963.1,226.5Z"/>
<path d="M947.4,228.0 L948.1,229.1 L947.7,229.6 L947.3,229.1Z"/>
</g><g fill="#fbfbf8">
<path d="M878.2,202.6 L881.4,203.7 L884.1,205.8 L884.9,202.6 L883.4,199.5 L881.0,199.5 L878.6,201.1Z"/>
<path d="M934.3,209.4 L936.7,208.9 L937.1,211.5 L936.7,213.5 L935.5,213.5 L935.1,211.5Z"/>
<path d="M926.8,211.5 L927.2,209.4 L929.2,208.9 L930.8,208.3 L931.9,210.9 L929.6,210.9Z"/>
<path d="M928.8,218.2 L929.6,218.2 L932.7,226.0 L932.3,225.4Z"/>
<path d="M934.7,217.2 L935.5,219.7 L937.9,220.3 L937.9,218.7 L936.3,218.2Z"/>
</g>
<g stroke="#22384a" stroke-width="1.05" fill="none">
<line x1="874.1" y1="215" x2="922" y2="207.7"/>
<line x1="874.1" y1="215" x2="923.6" y2="233.4"/>
<line x1="874.1" y1="215" x2="893.9" y2="239.4"/>
<line x1="893.9" y1="239.4" x2="922" y2="207.7"/>
<line x1="893.9" y1="239.4" x2="923.6" y2="233.4"/>
<line x1="922" y1="207.7" x2="923.6" y2="233.4"/>
<line x1="922" y1="207.7" x2="956.9" y2="208.1"/>
<line x1="923.6" y1="233.4" x2="956.9" y2="208.1"/>
<line x1="956.9" y1="208.1" x2="969.4" y2="246.3"/>
<line x1="931" y1="224" x2="969.4" y2="246.3"/>
</g>
<circle cx="874.1" cy="215" r="3.7" fill="#f28c5a" stroke="#22384a" stroke-width="1.1"/>
<circle cx="922" cy="207.7" r="3.7" fill="#3f9a66" stroke="#22384a" stroke-width="1.1"/>
<circle cx="956.9" cy="208.1" r="3.7" fill="#f28c5a" stroke="#22384a" stroke-width="1.1"/>
<circle cx="893.9" cy="239.4" r="3.7" fill="#3f9a66" stroke="#22384a" stroke-width="1.1"/>
<circle cx="923.6" cy="233.4" r="3.7" fill="#3f9a66" stroke="#22384a" stroke-width="1.1"/>
<circle cx="969.4" cy="246.3" r="3.7" fill="#f28c5a" stroke="#22384a" stroke-width="1.1"/>
<!-- right table -->
<path d="M776.1,416.9 H583.9 A12,12 0 0 0 571.9,428.9 V534.2 A10,10 0 0 0 581.9,544.2 H776.1 Z" fill="#e8f2ee"/>
<path d="M776.1,416.9 H981.1 A12,12 0 0 1 993.1,428.9 V534.2 A10,10 0 0 1 983.1,544.2 H776.1 Z" fill="#fbe8e2"/>
<path d="M776.1,446.7 H571.9 V428.9 A12,12 0 0 1 583.9,416.9 H776.1 Z" fill="#1e5359"/>
<path d="M776.1,446.7 H993.1 V428.9 A12,12 0 0 0 981.1,416.9 H776.1 Z" fill="#5f3557"/>
<line x1="571.9" y1="447" x2="776.1" y2="447" stroke="#143b40" stroke-width="1"/>
<line x1="776.1" y1="447" x2="993.1" y2="447" stroke="#4a2642" stroke-width="1"/>
<g stroke-width="1.1">
<g stroke="#c2d2ce"><line x1="572.5" y1="479" x2="776.1" y2="479"/><line x1="572.5" y1="510.4" x2="776.1" y2="510.4"/></g>
<g stroke="#e3cbc4"><line x1="776.1" y1="479" x2="992.5" y2="479"/><line x1="776.1" y1="510.4" x2="992.5" y2="510.4"/></g>
<line x1="776.1" y1="447" x2="776.1" y2="544" stroke="#d6d9d4"/>
</g>
<path d="M776.1,416.9 H583.9 A12,12 0 0 0 571.9,428.9 V534.2 A10,10 0 0 0 581.9,544.2 H776.1" fill="none" stroke="#1e4d54" stroke-width="1.6"/>
<path d="M776.1,416.9 H981.1 A12,12 0 0 1 993.1,428.9 V534.2 A10,10 0 0 1 983.1,544.2 H776.1" fill="none" stroke="#5e3352" stroke-width="1.6"/>
<g fill="#3f9a5e"><circle cx="735.2" cy="431.5" r="8.5"/><circle cx="590.7" cy="462.6" r="8.5"/><circle cx="590.7" cy="494.5" r="8.5"/><circle cx="590.7" cy="527" r="8.5"/></g>
<g fill="none" stroke="#fff" stroke-width="2.1" stroke-linecap="round" stroke-linejoin="round">
<path d="M731,431.8 l3,3 l5.4,-5.8"/><path d="M586.5,462.9 l3,3 l5.4,-5.8"/><path d="M586.5,494.8 l3,3 l5.4,-5.8"/><path d="M586.5,527.3 l3,3 l5.4,-5.8"/>
</g>
<g fill="#d9433d"><circle cx="973.6" cy="432" r="8.5"/><circle cx="794.5" cy="462.6" r="8.5"/><circle cx="794.5" cy="494.5" r="8.5"/><circle cx="794.5" cy="527" r="8.5"/></g>
<g stroke="#fff" stroke-width="2" stroke-linecap="round">
<path d="M970.3,428.7 l6.6,6.6 M976.9,428.7 l-6.6,6.6"/>
<path d="M791.2,459.3 l6.6,6.6 M797.8,459.3 l-6.6,6.6"/>
<path d="M791.2,491.2 l6.6,6.6 M797.8,491.2 l-6.6,6.6"/>
<path d="M791.2,523.7 l6.6,6.6 M797.8,523.7 l-6.6,6.6"/>
</g>

<g>
<text x="98.62" y="49.60" font-size="31.5" font-weight="bold" fill="#173a46" textLength="85.49" lengthAdjust="spacingAndGlyphs">Using</text>
<text x="192.55" y="49.60" font-size="31.5" font-weight="bold" fill="#173a46" textLength="71.86" lengthAdjust="spacingAndGlyphs">IPTV</text>
<text x="273.28" y="49.60" font-size="31.5" font-weight="bold" fill="#173a46" textLength="61.74" lengthAdjust="spacingAndGlyphs">with</text>
<text x="342.60" y="49.60" font-size="31.5" font-weight="bold" fill="#173a46" textLength="17.13" lengthAdjust="spacingAndGlyphs">a</text>
<text x="370.00" y="49.60" font-size="31.5" font-weight="bold" fill="#173a46" textLength="64.95" lengthAdjust="spacingAndGlyphs">VPN</text>
<text x="442.99" y="49.60" font-size="31.5" font-weight="bold" fill="#173a46" textLength="28.16" lengthAdjust="spacingAndGlyphs">in</text>
<text x="478.70" y="49.60" font-size="31.5" font-weight="bold" fill="#173a46" textLength="143.97" lengthAdjust="spacingAndGlyphs">Australia:</text>
<text x="630.50" y="49.60" font-size="31.5" font-weight="bold" fill="#173a46" textLength="76.79" lengthAdjust="spacingAndGlyphs">What</text>
<text x="715.59" y="49.60" font-size="31.5" font-weight="bold" fill="#173a46" textLength="88.65" lengthAdjust="spacingAndGlyphs">Really</text>
<text x="813.80" y="49.60" font-size="31.5" font-weight="bold" fill="#173a46" textLength="111.91" lengthAdjust="spacingAndGlyphs">Works?</text>
<text x="207.00" y="74.10" font-size="14.5" font-weight="normal" fill="#202020" stroke="#202020" stroke-width="0.32" textLength="610.94" lengthAdjust="spacingAndGlyphs">This guide clarifies the real-world implications of using a VPN with IPTV services on Australian networks,</text>
<text x="275.90" y="90.10" font-size="14.5" font-weight="normal" fill="#202020" stroke="#202020" stroke-width="0.32" textLength="472.53" lengthAdjust="spacingAndGlyphs">covering legal distinctions, performance issues, and when a VPN is a helpful tool.</text>
<text x="154.30" y="141.40" font-size="20.5" font-weight="bold" fill="#1c1c1c" textLength="189.39" lengthAdjust="spacingAndGlyphs">The Legality Check:</text>
<text x="124.20" y="164.70" font-size="20.5" font-weight="bold" fill="#1c1c1c" textLength="245.50" lengthAdjust="spacingAndGlyphs">A VPN Isn’t a Legal Shield</text>
<text x="658.40" y="141.40" font-size="20.5" font-weight="bold" fill="#1c1c1c" textLength="241.51" lengthAdjust="spacingAndGlyphs">The Performance Puzzle:</text>
<text x="643.80" y="164.80" font-size="20.5" font-weight="bold" fill="#1c1c1c" textLength="269.29" lengthAdjust="spacingAndGlyphs">When a VPN Helps vs. Hurts</text>
<text x="77.20" y="275.20" font-size="13.5" font-weight="bold" fill="#1c1c1c" textLength="88.50" lengthAdjust="spacingAndGlyphs">VPN Use: 100%</text>
<text x="70.70" y="290.20" font-size="13.5" font-weight="bold" fill="#1c1c1c" textLength="100.16" lengthAdjust="spacingAndGlyphs">Legal in Australia</text>
<text x="48.50" y="304.40" font-size="10" font-weight="normal" fill="#222" stroke="#222" stroke-width="0.32" textLength="146.30" lengthAdjust="spacingAndGlyphs">However, it does not make streaming</text>
<text x="46.30" y="315.50" font-size="10" font-weight="normal" fill="#222" stroke="#222" stroke-width="0.32" textLength="150.50" lengthAdjust="spacingAndGlyphs">unlicensed, copyrighted content legal.</text>
<text x="293.20" y="278.50" font-size="13.5" font-weight="bold" fill="#1c1c1c" textLength="153.80" lengthAdjust="spacingAndGlyphs">What a VPN Does For IPTV</text>
<text x="298.50" y="293.40" font-size="10" font-weight="normal" fill="#222" stroke="#222" stroke-width="0.32" textLength="143.90" lengthAdjust="spacingAndGlyphs">It encrypts traffic and masks your IP,</text>
<text x="295.50" y="304.20" font-size="10" font-weight="normal" fill="#222" stroke="#222" stroke-width="0.32" textLength="149.70" lengthAdjust="spacingAndGlyphs">hiding your specific streaming activity</text>
<text x="343.00" y="314.80" font-size="10" font-weight="normal" fill="#222" stroke="#222" stroke-width="0.32" textLength="54.58" lengthAdjust="spacingAndGlyphs">from your ISP.</text>
<text x="79.80" y="348.40" font-size="14" font-weight="bold" fill="#ffffff" textLength="84.52" lengthAdjust="spacingAndGlyphs">Licensed IPTV</text>
<text x="314.60" y="348.70" font-size="14" font-weight="bold" fill="#ffffff" textLength="99.30" lengthAdjust="spacingAndGlyphs">Grey/Illegal IPTV</text>
<text x="92.10" y="435.00" font-size="13.5" font-weight="bold" fill="#1c1c1c" textLength="70.52" lengthAdjust="spacingAndGlyphs">Very Low Risk</text>
<text x="92.10" y="480.60" font-size="13.5" font-weight="bold" fill="#1c1c1c" textLength="82.22" lengthAdjust="spacingAndGlyphs">Generally Stable</text>
<text x="92.10" y="526.50" font-size="13.5" font-weight="bold" fill="#1c1c1c" textLength="40.71" lengthAdjust="spacingAndGlyphs">Minimal</text>
<text x="206.70" y="434.50" font-size="12.3" font-weight="bold" fill="#ffffff" textLength="73.36" lengthAdjust="spacingAndGlyphs">Service Blocks</text>
<text x="218.70" y="479.80" font-size="12.3" font-weight="bold" fill="#ffffff" textLength="49.06" lengthAdjust="spacingAndGlyphs">Reliability</text>
<text x="210.90" y="525.50" font-size="12.3" font-weight="bold" fill="#ffffff" textLength="65.27" lengthAdjust="spacingAndGlyphs">Security Risk</text>
<text x="335.80" y="429.10" font-size="13" font-weight="bold" fill="#1c1c1c" textLength="47.00" lengthAdjust="spacingAndGlyphs">High Risk</text>
<text x="335.80" y="440.30" font-size="10.3" font-weight="normal" fill="#222" stroke="#222" stroke-width="0.32" textLength="100.57" lengthAdjust="spacingAndGlyphs">(Subject to ACMA blocks)</text>
<text x="335.80" y="468.40" font-size="13" font-weight="bold" fill="#1c1c1c" textLength="40.69" lengthAdjust="spacingAndGlyphs">Variable</text>
<text x="335.80" y="480.60" font-size="10.3" font-weight="normal" fill="#222" stroke="#222" stroke-width="0.32" textLength="78.73" lengthAdjust="spacingAndGlyphs">(Overloaded servers</text>
<text x="335.80" y="491.20" font-size="10.3" font-weight="normal" fill="#222" stroke="#222" stroke-width="0.32" textLength="37.07" lengthAdjust="spacingAndGlyphs">common)</text>
<text x="335.80" y="519.60" font-size="13" font-weight="bold" fill="#1c1c1c" textLength="86.15" lengthAdjust="spacingAndGlyphs">Moderate to High</text>
<text x="335.80" y="531.30" font-size="10.3" font-weight="normal" fill="#222" stroke="#222" stroke-width="0.32" textLength="70.08" lengthAdjust="spacingAndGlyphs">(Malware/Scams)</text>
<text x="579.10" y="283.00" font-size="13.5" font-weight="bold" fill="#1c1c1c" textLength="147.22" lengthAdjust="spacingAndGlyphs">VPNs can make buffering</text>
<text x="604.89" y="297.40" font-size="13.5" font-weight="bold" fill="#1c1c1c" textLength="96.45" lengthAdjust="spacingAndGlyphs">worse, not better</text>
<text x="573.00" y="312.80" font-size="10.3" font-weight="normal" fill="#222" stroke="#222" stroke-width="0.32" textLength="160.02" lengthAdjust="spacingAndGlyphs">They add overhead and cannot fix a slow</text>
<text x="579.10" y="323.90" font-size="10.3" font-weight="normal" fill="#222" stroke="#222" stroke-width="0.32" textLength="148.54" lengthAdjust="spacingAndGlyphs">NBN connection or weak WI-Fi signal.</text>
<text x="763.20" y="339.50" font-size="9.8" font-weight="bold" fill="#1c1c1c" textLength="30.64" lengthAdjust="spacingAndGlyphs">Latency</text>
<text x="869.20" y="282.60" font-size="13.5" font-weight="bold" fill="#1c1c1c" textLength="79.13" lengthAdjust="spacingAndGlyphs">The #1 Fix for</text>
<text x="845.00" y="296.70" font-size="13.5" font-weight="bold" fill="#1c1c1c" textLength="128.83" lengthAdjust="spacingAndGlyphs">VPN-related Buffering</text>
<text x="830.20" y="312.90" font-size="10.3" font-weight="normal" fill="#222" stroke="#222" stroke-width="0.32" textLength="157.57" lengthAdjust="spacingAndGlyphs">Switch to a local server (e.g.. Sydney) to</text>
<text x="825.20" y="323.10" font-size="10.3" font-weight="normal" fill="#222" stroke="#222" stroke-width="0.32" textLength="168.55" lengthAdjust="spacingAndGlyphs">reduce latency before trying anything else.</text>
<text x="604.70" y="436.90" font-size="13.5" font-weight="bold" fill="#ffffff" textLength="117.70" lengthAdjust="spacingAndGlyphs">A VPN Helps With...</text>
<text x="788.40" y="436.90" font-size="13.5" font-weight="bold" fill="#ffffff" textLength="172.69" lengthAdjust="spacingAndGlyphs">A VPN Does NOT Help With...</text>
<text x="605.75" y="467.30" font-size="13.1" font-weight="normal" fill="#1c1c1c" stroke="#1c1c1c" stroke-width="0.32" textLength="140.23" lengthAdjust="spacingAndGlyphs">Hiding activity from your ISP</text>
<text x="605.76" y="499.30" font-size="13.1" font-weight="normal" fill="#1c1c1c" stroke="#1c1c1c" stroke-width="0.32" textLength="126.56" lengthAdjust="spacingAndGlyphs">Bypassing ISP site blocks</text>
<text x="605.75" y="531.60" font-size="13.1" font-weight="normal" fill="#1c1c1c" stroke="#1c1c1c" stroke-width="0.32" textLength="154.90" lengthAdjust="spacingAndGlyphs">Reducing specific ISP throttling</text>
<text x="810.40" y="467.30" font-size="13.1" font-weight="normal" fill="#1c1c1c" stroke="#1c1c1c" stroke-width="0.32" textLength="169.74" lengthAdjust="spacingAndGlyphs">A slow underlying NBN connection</text>
<text x="810.40" y="499.30" font-size="13.1" font-weight="normal" fill="#1c1c1c" stroke="#1c1c1c" stroke-width="0.32" textLength="162.62" lengthAdjust="spacingAndGlyphs">A weak or congested WI-FI signal</text>
<text x="810.40" y="531.60" font-size="13.1" font-weight="normal" fill="#1c1c1c" stroke="#1c1c1c" stroke-width="0.32" textLength="163.53" lengthAdjust="spacingAndGlyphs">Overloaded IPTV provider servers</text>
</g>
</svg>
</body></html>
